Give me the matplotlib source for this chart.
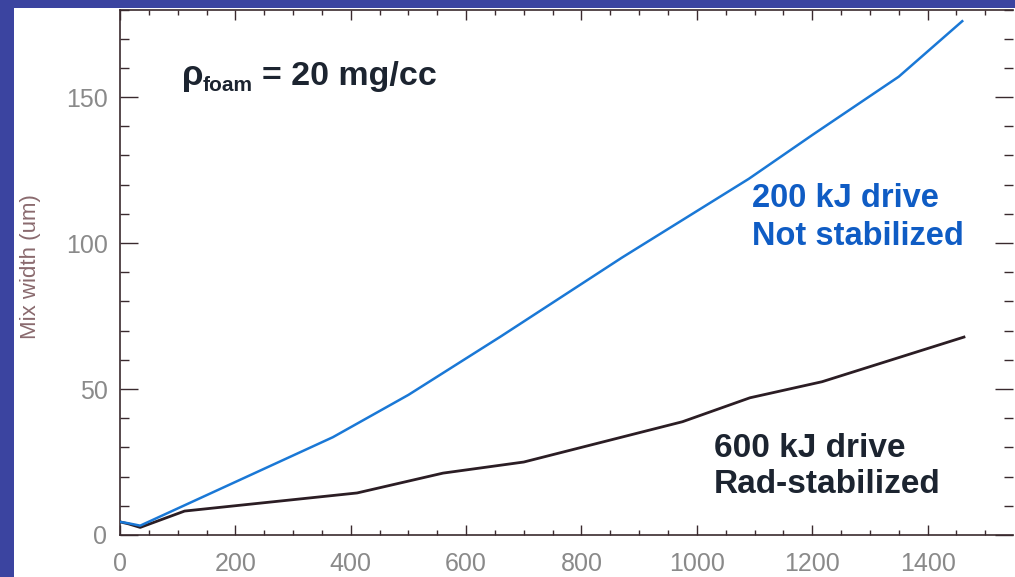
import matplotlib
matplotlib.use("Agg")
import matplotlib.pyplot as plt
from matplotlib.patches import Rectangle
from matplotlib.ticker import MultipleLocator

# mix width vs time
blue_x = [0, 15, 35, 369, 500, 660, 870, 1090, 1200, 1350, 1460]
blue_y = [4.5, 4.0, 3.2, 33.5, 48, 68, 95, 122, 137, 157, 176]
black_x = [0, 15, 35, 112, 411, 560, 700, 975, 1092, 1217, 1463]
black_y = [4.5, 3.8, 2.6, 8.2, 14.4, 21.2, 25, 38.8, 47, 52.5, 67.8]

x_ticks = [0, 200, 400, 600, 800, 1000, 1200, 1400]
y_ticks = [0, 50, 100, 150]

W, H = 1015, 577
SLIDE_BLUE = "#3b44a0"
AXIS_COL = "#3a2a2e"
BLUE_TXT = "#0f5cc4"
DARK_TXT = "#1c2430"
FONTS = ["Liberation Sans", "DejaVu Sans"]


def px(x, y):
    # pixel position (from top-left) -> figure fraction
    return x / W, 1 - y / H


fig = plt.figure(figsize=(W / 100, H / 100), dpi=100)
fig.patch.set_facecolor(SLIDE_BLUE)
fig.add_artist(Rectangle((14 / W, 0), 1 - 14 / W, 1 - 8 / H,
                         transform=fig.transFigure, facecolor="white",
                         edgecolor="none", zorder=-5))

ax = fig.add_axes([120 / W, 42 / H, 893 / W, 525.5 / H])
ax.set_facecolor("white")

ax.plot(black_x, black_y, color="#2b1d24", lw=2.0, zorder=3)
ax.plot(blue_x, blue_y, color="#1a78d6", lw=1.8, zorder=4)

ax.set_xlim(0, 1548)
ax.set_ylim(0, 180)
ax.set_xticks(x_ticks)
ax.set_yticks(y_ticks)
ax.xaxis.set_minor_locator(MultipleLocator(50))
ax.yaxis.set_minor_locator(MultipleLocator(10))

for s in ax.spines.values():
    s.set_color(AXIS_COL)
    s.set_linewidth(1.2)
ax.spines["right"].set_visible(False)

tick_font = dict(labelsize=18, labelcolor="#8a8a8a")
ax.tick_params(axis="both", which="both", direction="in", top=True, right=True,
               color=AXIS_COL, width=1)
ax.tick_params(axis="x", which="major", length=7.5, pad=12, **tick_font)
ax.tick_params(axis="x", which="minor", length=3.8)
ax.tick_params(axis="y", which="major", length=13, pad=9, **tick_font)
ax.tick_params(axis="y", which="minor", length=6.5)
for lab in ax.get_xticklabels() + ax.get_yticklabels():
    lab.set_fontfamily(FONTS)

ax.set_ylabel("Mix width (um)", fontsize=16, color="#8a6a6e", fontfamily=FONTS)
ax.yaxis.set_label_coords(-0.088, 0.51)

bold = dict(fontweight="bold", fontfamily=FONTS, va="baseline", ha="left")

# rho_foam = 20 mg/cc
fig.text(*px(182, 85), "\u03c1", fontsize=25, color=DARK_TXT, **bold)
fig.text(*px(203, 91), "foam", fontsize=15, color=DARK_TXT, **bold)
fig.text(*px(262, 85), "= 20 mg/cc", fontsize=24.5, color=DARK_TXT, **bold)

fig.text(*px(752, 207), "200 kJ drive", fontsize=23.5, color=BLUE_TXT, **bold)
fig.text(*px(752, 245), "Not stabilized", fontsize=23.5, color=BLUE_TXT, **bold)

fig.text(*px(714, 457), "600 kJ drive", fontsize=24, color=DARK_TXT, **bold)
fig.text(*px(714, 493), "Rad-stabilized", fontsize=24, color=DARK_TXT, **bold)

fig.savefig("out.png", dpi=100, facecolor=fig.get_facecolor())
